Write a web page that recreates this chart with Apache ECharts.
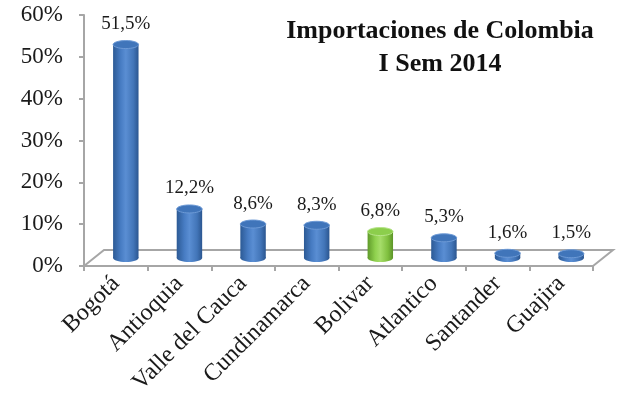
<!DOCTYPE html>
<html>
<head>
<meta charset="utf-8">
<script src="https://cdn.jsdelivr.net/npm/echarts@6/dist/echarts.min.js"></script>
<style>
	html, body { margin: 0; padding: 0; background: #ffffff; }
	#chart { width: 622px; height: 407px; }
</style>
</head>
<body>
<div id="chart"></div>
<script>
var categories = ['Bogotá', 'Antioquia', 'Valle del Cauca', 'Cundinamarca', 'Bolivar', 'Atlantico', 'Santander', 'Guajira'];
var shares = [51.5, 12.2, 8.6, 8.3, 6.8, 5.3, 1.6, 1.5];
var highlighted = ['Bolivar'];
var yTicks = [0, 10, 20, 30, 40, 50, 60];

var FONT = '"Liberation Serif", "DejaVu Serif", serif';
// profundidad del piso 3D
var DEPTH_X = 20, DEPTH_Y = -16;

function cylColors(green) {
	if (green) {
		return {
			body: ['#5f9a2a', '#8fd14e', '#a6dd6a', '#7fbf3e', '#5c9428'],
			top: '#8cce4c',
			rim: '#b7e58a'
		};
	}
	return {
		body: ['#2c5a95', '#477cc3', '#5a8ed3', '#4275b8', '#2b5690'],
		top: '#4075ba',
		rim: '#6d9ad6'
	};
}

function gradient(cols) {
	return new echarts.graphic.LinearGradient(0, 0, 1, 0, [
		{ offset: 0, color: cols[0] },
		{ offset: 0.3, color: cols[1] },
		{ offset: 0.5, color: cols[2] },
		{ offset: 0.8, color: cols[3] },
		{ offset: 1, color: cols[4] }
	]);
}

function renderCylinder(params, api) {
	var idx = api.value(0);
	var val = api.value(1);
	var top = api.coord([idx, val]);
	var base = api.coord([idx, 0]);
	var bw = api.size([1, 0])[0] * 0.4;
	var cx = top[0] + DEPTH_X / 2;
	var yTop = top[1] + DEPTH_Y / 2 + 2;
	var yBot = base[1] + DEPTH_Y / 2;
	var ry = 4;
	var c = cylColors(highlighted.indexOf(categories[idx]) >= 0);
	var fill = gradient(c.body);
	var txt = val.toFixed(1).replace('.', ',') + '%';
	return {
		type: 'group',
		children: [
			{ type: 'ellipse', shape: { cx: cx, cy: yBot, rx: bw / 2, ry: ry }, style: { fill: fill } },
			{ type: 'rect', shape: { x: cx - bw / 2, y: yTop, width: bw, height: yBot - yTop }, style: { fill: fill } },
			{ type: 'ellipse', shape: { cx: cx, cy: yTop, rx: bw / 2, ry: ry }, style: { fill: c.top, stroke: c.rim, lineWidth: 1 } },
			{
				type: 'text',
				x: cx, y: yTop - ry - 7,
				style: { text: txt, font: '19px ' + FONT, fill: '#1a1a1a', align: 'center', verticalAlign: 'bottom' }
			}
		]
	};
}

function renderFloor(params, api) {
	var band = api.size([1, 0])[0];
	var first = api.coord([0, 0]);
	var last = api.coord([categories.length - 1, 0]);
	var left = first[0] - band / 2;
	var right = last[0] + band / 2;
	var y = first[1];
	return {
		type: 'polyline',
		shape: {
			points: [[left, y], [left + DEPTH_X, y + DEPTH_Y], [right + DEPTH_X, y + DEPTH_Y], [right, y]]
		},
		style: { stroke: '#a6a6a6', lineWidth: 2, fill: null }
	};
}

var chart = echarts.init(document.getElementById('chart'));
var option = {
	backgroundColor: '#ffffff',
	animation: false,
	title: {
		text: 'Importaciones de Colombia\nI Sem 2014',
		left: 435,
		top: 10,
		textAlign: 'center',
		textStyle: { fontFamily: FONT, fontWeight: 'bold', fontSize: 26, lineHeight: 33, color: '#111' }
	},
	grid: { left: 84, right: 29, top: 15, bottom: 141 },
	xAxis: {
		type: 'category',
		data: categories,
		axisLine: { lineStyle: { color: '#a6a6a6', width: 2 } },
		axisTick: { show: true, alignWithLabel: false, length: 5, lineStyle: { color: '#a6a6a6', width: 2 } },
		axisLabel: { rotate: 45, margin: 14, fontFamily: FONT, fontSize: 24, color: '#1a1a1a', interval: 0 }
	},
	yAxis: {
		type: 'value',
		min: yTicks[0],
		max: yTicks[yTicks.length - 1],
		interval: yTicks[1] - yTicks[0],
		splitLine: { show: false },
		axisLine: { show: true, lineStyle: { color: '#a6a6a6', width: 2 } },
		axisTick: { show: true, length: 5, lineStyle: { color: '#a6a6a6', width: 2 } },
		axisLabel: { margin: 21, fontFamily: FONT, fontSize: 23, color: '#1a1a1a', formatter: '{value}%' }
	},
	series: [{
		type: 'custom',
		renderItem: renderFloor,
		data: [[0, 0]],
		z: 1,
		silent: true
	}, {
		type: 'custom',
		renderItem: renderCylinder,
		data: shares.map(function(v, i) { return [i, v]; }),
		z: 3
	}]
};
chart.setOption(option);
</script>
</body>
</html>
